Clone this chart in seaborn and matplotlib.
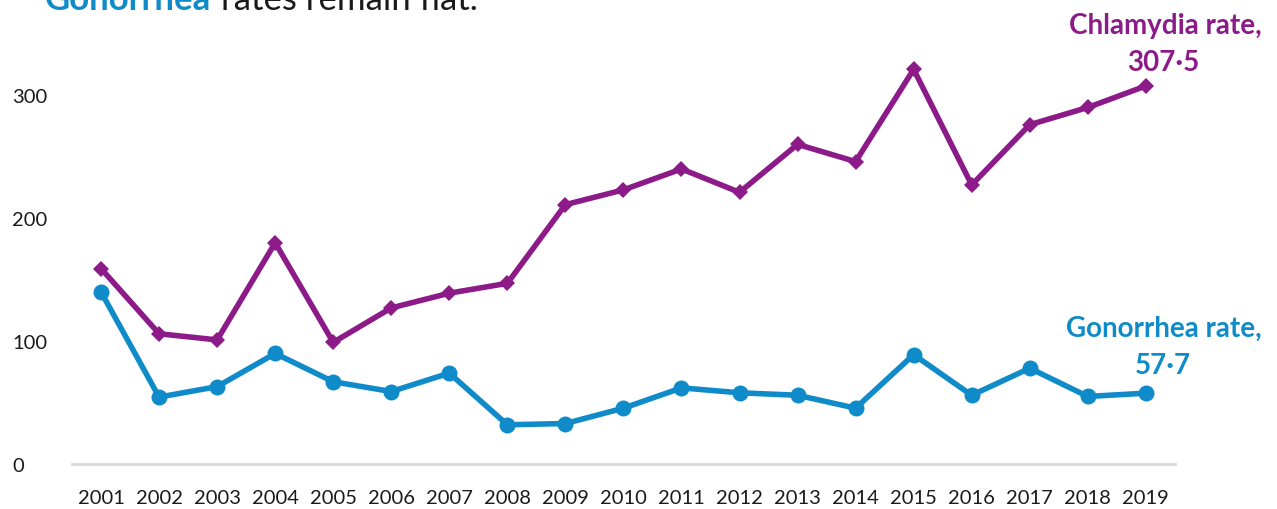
import matplotlib
matplotlib.use("Agg")
import matplotlib.pyplot as plt
import pandas as pd
import seaborn as sns

years = [str(y) for y in range(2001, 2020)]
chlamydia = [159, 106, 101, 180, 99, 127, 139, 147, 211, 223, 240, 221, 260, 246, 321, 227, 276, 290, 307.5]
gonorrhea = [140, 54.5, 63, 90, 67, 59, 74, 32, 33, 45.5, 62, 58, 56, 45.5, 89, 56, 78, 55, 57.7]

purple = "#8C1A88"
blue = "#0E8BC8"

sns.set_theme(style="white")
plt.rcParams["font.family"] = ["Lato", "DejaVu Sans"]

df = pd.DataFrame({"year": years, "chlamydia": chlamydia, "gonorrhea": gonorrhea})

fig = plt.figure(figsize=(12.77, 5.10), dpi=100)
ax = fig.add_axes([0.0564, 0.088, 0.8636, 0.844])

# series
sns.lineplot(data=df, x="year", y="chlamydia", ax=ax, color=purple, linewidth=4,
             marker="D", markersize=8, markeredgewidth=0, sort=False)
sns.lineplot(data=df, x="year", y="gonorrhea", ax=ax, color=blue, linewidth=4,
             marker="o", markersize=11.5, markeredgewidth=0, sort=False)

ax.set_xlim(-0.5, len(years) - 0.5)
ax.set_ylim(0, 350)
ax.set_yticks([0, 100, 200, 300])
ax.set_xlabel("")
ax.set_ylabel("")
for s in ["top", "right", "left"]:
    ax.spines[s].set_visible(False)
ax.spines["bottom"].set_color("#D9D9D9")
ax.spines["bottom"].set_linewidth(2)
ax.tick_params(axis="both", length=0, labelsize=14.5, labelcolor="#1a1a1a")
ax.tick_params(axis="x", pad=18)
ax.tick_params(axis="y", pad=43)
for lbl in ax.get_yticklabels():
    lbl.set_horizontalalignment("left")

# end labels
fig.text(1262 / 1277, 1 - 26 / 510, "Chlamydia rate,", color=purple, fontsize=20,
         fontweight="bold", ha="right", va="center")
fig.text(1163 / 1277, 1 - 63 / 510, "307\u00b75", color=purple, fontsize=20,
         fontweight="bold", ha="center", va="center")
fig.text(1262 / 1277, 1 - 329 / 510, "Gonorrhea rate,", color=blue, fontsize=20,
         fontweight="bold", ha="right", va="center")
fig.text(1163 / 1277, 1 - 366 / 510, "57\u00b77", color=blue, fontsize=20,
         fontweight="bold", ha="center", va="center")

# title (cut off at the top, as in the source)
t1 = fig.text(45 / 1277, 1 - 10 / 510, "Gonorrhea", color=blue, fontsize=25,
              fontweight="bold", ha="left", va="baseline")
fig.canvas.draw()
bb = t1.get_window_extent()
fig.text(bb.x1 / fig.bbox.width + 0.008, 1 - 10 / 510, "rates remain flat.", color="#1a1a1a",
         fontsize=25, ha="left", va="baseline")

fig.savefig("out.png", dpi=100)
